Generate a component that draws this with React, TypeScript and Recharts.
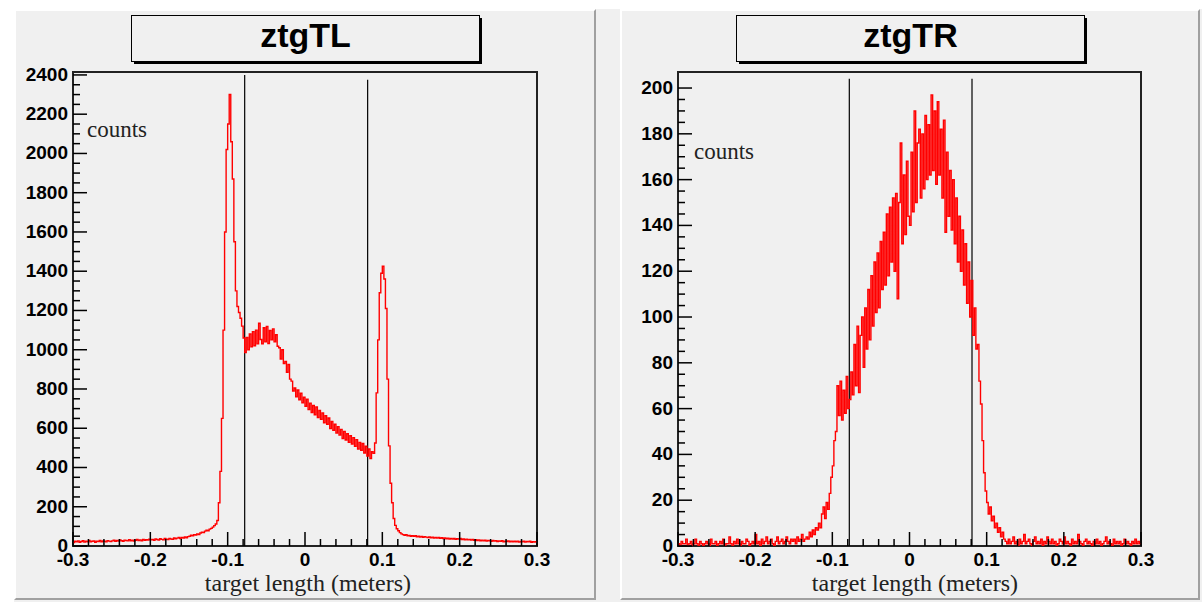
import React from 'react';
import { LineChart, Line, XAxis, YAxis, ReferenceLine, ReferenceArea } from 'recharts';

// ---------- data ----------
const BIN_START = -0.3;
const BIN_WIDTH = 0.002;

const X_TICKS = [-0.3, -0.28, -0.26, -0.24, -0.22, -0.2, -0.18, -0.16, -0.14, -0.12, -0.1, -0.08, -0.06, -0.04, -0.02, 0,
  0.02, 0.04, 0.06, 0.08, 0.1, 0.12, 0.14, 0.16, 0.18, 0.2, 0.22, 0.24, 0.26, 0.28, 0.3];
const X_TICK_LABELS = ['-0.3', '', '', '', '', '-0.2', '', '', '', '', '-0.1', '', '', '', '', '0',
  '', '', '', '', '0.1', '', '', '', '', '0.2', '', '', '', '', '0.3'];

const TL_Y_MAJOR = [0, 200, 400, 600, 800, 1000, 1200, 1400, 1600, 1800, 2000, 2200, 2400];
const TL_Y_MINOR_STEP = 50;
const TL_Y_MAX = 2415;
const TL_CUTS = [-0.078, 0.081];
const TL_CUT_TOPS = [2400, 2375];

const TR_Y_MAJOR = [0, 20, 40, 60, 80, 100, 120, 140, 160, 180, 200];
const TR_Y_MINOR_STEP = 5;
const TR_Y_MAX = 207;
const TR_CUTS = [-0.078, 0.081];
const TR_CUT_TOPS = [204, 204];

const TL_COUNTS = [
  18, 24, 21, 26, 19, 23, 27, 20, 25, 22,
  28, 21, 24, 26, 19, 25, 23, 28, 22, 26,
  24, 21, 27, 25, 23, 26, 29, 24, 28, 25,
  31, 27, 24, 30, 28, 26, 32, 27, 30, 25,
  29, 33, 28, 31, 27, 34, 29, 32, 30, 35,
  31, 34, 29, 36, 33, 30, 37, 34, 32, 38,
  35, 33, 39, 36, 34, 41, 37, 40, 43, 38,
  44, 41, 46, 42, 48, 50, 55, 52, 58, 56,
  62, 58, 66, 70, 68, 76, 80, 78, 86, 90,
  96, 104, 112, 130, 220, 380, 650, 1100, 1600, 2020,
  2150, 2300, 2060, 1870, 1550, 1300, 1220, 1190, 1160, 1120,
  1060, 985, 1062, 1000, 1080, 1015, 1092, 1020, 1100, 1030,
  1135, 1052, 1030, 1112, 1040, 1118, 1032, 1098, 1050, 1106,
  1040, 1076, 1018, 1010, 952, 1000, 930, 940, 885, 925,
  850, 840, 790, 805, 760, 795, 745, 778, 730, 758,
  712, 748, 695, 728, 680, 716, 668, 708, 655, 690,
  645, 678, 628, 664, 620, 652, 598, 634, 590, 620,
  575, 608, 565, 594, 548, 584, 540, 572, 528, 562,
  520, 552, 508, 542, 494, 528, 488, 522, 474, 508,
  458, 494, 446, 480, 472, 525, 780, 1050, 1290, 1390,
  1425, 1360, 1210, 850, 510, 320, 220, 140, 105, 88,
  78, 68, 62, 58, 55, 58, 52, 54, 50, 53,
  49, 52, 47, 50, 46, 49, 44, 48, 45, 43,
  46, 42, 45, 41, 44, 40, 43, 39, 42, 38,
  41, 37, 40, 36, 39, 35, 38, 34, 37, 35,
  38, 33, 36, 32, 35, 31, 34, 30, 33, 29,
  32, 28, 31, 27, 30, 26, 29, 25, 28, 26,
  24, 28, 25, 27, 23, 26, 24, 27, 22, 25,
  23, 26, 22, 25, 21, 24, 22, 25, 20, 23,
  21, 24, 20, 23, 21, 24, 19, 22, 20, 22,
];

const TR_COUNTS = [
  1, 0, 2, 1, 1, 3, 0, 1, 2, 0,
  1, 3, 1, 0, 2, 1, 0, 1, 2, 1,
  0, 3, 1, 1, 2, 0, 1, 2, 1, 3,
  0, 1, 1, 4, 1, 0, 2, 1, 3, 1,
  0, 2, 1, 1, 3, 2, 0, 1, 2, 1,
  5, 1, 2, 0, 3, 1, 2, 4, 1, 2,
  3, 1, 0, 2, 4, 1, 2, 3, 1, 2,
  4, 2, 1, 3, 2, 3, 1, 4, 2, 3,
  5, 2, 3, 4, 3, 6, 4, 7, 5, 8,
  7, 10, 8, 14, 17, 12, 19, 16, 23, 30,
  35, 46, 50, 70, 57, 72, 55, 68, 58, 74,
  60, 64, 76, 66, 88, 70, 96, 67, 92, 100,
  78, 104, 86, 112, 90, 118, 96, 124, 102, 128,
  104, 133, 112, 137, 114, 145, 118, 148, 124, 152,
  120, 154, 108, 150, 176, 132, 162, 136, 168, 144,
  140, 172, 146, 190, 150, 176, 182, 152, 180, 156,
  188, 160, 184, 162, 197, 164, 190, 158, 194, 162,
  182, 152, 186, 137, 172, 144, 164, 138, 160, 132,
  152, 124, 144, 120, 138, 114, 132, 106, 124, 100,
  116, 92, 104, 86, 88, 72, 62, 46, 32, 24,
  19, 14, 17, 11, 13, 8, 10, 6, 8, 4,
  6, 3, 2, 1, 3, 1, 2, 4, 1, 2,
  0, 3, 1, 2, 5, 1, 2, 3, 1, 0,
  2, 4, 1, 2, 1, 3, 0, 2, 1, 4,
  2, 1, 3, 1, 2, 0, 1, 3, 2, 1,
  4, 1, 2, 1, 0, 3, 1, 2, 1, 5,
  2, 1, 0, 2, 3, 1, 2, 1, 0, 2,
  1, 3, 1, 2, 0, 1, 2, 4, 1, 2,
  1, 0, 3, 1, 2, 1, 2, 0, 1, 3,
  1, 2, 1, 0, 2, 1, 3, 1, 2, 1,
];

// ---------- helpers ----------
function buildHist(values: number[]) {
  const rows = values.map((c, i) => ({ x: +(BIN_START + i * BIN_WIDTH).toFixed(4), c }));
  rows.push({ x: +(BIN_START + values.length * BIN_WIDTH).toFixed(4), c: values[values.length - 1] });
  return rows;
}

function buildYTicks(majors: number[], step: number) {
  const out: number[] = [];
  const top = majors[majors.length - 1];
  for (let v = 0; v <= top + 1e-9; v += step) out.push(v);
  return out;
}

const LABEL_FONT = "'Liberation Sans', Arial, Helvetica, sans-serif";
const SERIF_FONT = "'Liberation Serif', 'Times New Roman', serif";
const PANEL_BG = '#f0f0f0';

const XTick = (props: any) => {
  const { x, y, payload } = props;
  const idx = X_TICKS.indexOf(payload.value);
  const label = idx >= 0 ? X_TICK_LABELS[idx] : '';
  const major = label !== '';
  return (
    <g>
      <line x1={x} y1={y} x2={x} y2={y - (major ? 14 : 7)} stroke="#000" strokeWidth={1.5} />
      {major && (
        <text x={x} y={y + 20} textAnchor="middle" fontFamily={LABEL_FONT} fontWeight="bold" fontSize={19} fill="#000">
          {label}
        </text>
      )}
    </g>
  );
};

const makeYTick = (majors: number[]) => (props: any) => {
  const { x, y, payload } = props;
  const v = payload.value;
  const major = majors.includes(v);
  return (
    <g>
      <line x1={x} y1={y} x2={x + (major ? 14 : 7)} y2={y} stroke="#000" strokeWidth={1.5} />
      {major && (
        <text x={x - 5} y={y + 6} textAnchor="end" fontFamily={LABEL_FONT} fontWeight="bold" fontSize={19} fill="#000">
          {String(v)}
        </text>
      )}
    </g>
  );
};

type PanelProps = {
  left: number;
  width: number;
  marginLeft: number;
  marginRight: number;
  values: number[];
  yMax: number;
  yMajor: number[];
  yMinorStep: number;
  cuts: number[];
  cutTops: number[];
};

const Panel = ({ left, width, marginLeft, marginRight, values, yMax, yMajor, yMinorStep, cuts, cutTops }: PanelProps) => {
  const data = buildHist(values);
  const yTicks = buildYTicks(yMajor, yMinorStep);
  return (
    <div style={{ position: 'absolute', left, top: 0, width, height: 604 }}>
      <LineChart width={width} height={604} data={data} margin={{ top: 72, right: marginRight, bottom: 28, left: marginLeft }}>
        <XAxis
          dataKey="x"
          type="number"
          domain={[-0.3, 0.3]}
          ticks={X_TICKS}
          interval={0}
          axisLine={false}
          tickLine={false}
          tickSize={0}
          tickMargin={0}
          tick={<XTick />}
          allowDataOverflow
          height={30}
        />
        <YAxis
          type="number"
          domain={[0, yMax]}
          ticks={yTicks}
          interval={0}
          axisLine={false}
          tickLine={false}
          tickSize={0}
          tickMargin={0}
          tick={makeYTick(yMajor)}
          allowDataOverflow
          width={60}
        />
        <ReferenceArea x1={-0.3} x2={0.3} y1={0} y2={yMax} fill="none" stroke="#222" strokeWidth={2} ifOverflow="visible" />
        {cuts.map((c, i) => (
          <ReferenceLine
            key={i}
            segment={[{ x: c, y: 0 }, { x: c, y: cutTops[i] }]}
            stroke="#000"
            strokeWidth={1.2}
          />
        ))}
        <Line
          dataKey="c"
          type="stepAfter"
          stroke="#ff0000"
          strokeWidth={1.4}
          dot={false}
          activeDot={false}
          isAnimationActive={false}
        />
      </LineChart>
    </div>
  );
};

const padStyle = (left: number, width: number): React.CSSProperties => ({
  position: 'absolute',
  left,
  top: 9,
  width,
  height: 591,
  boxSizing: 'border-box',
  background: PANEL_BG,
  borderLeft: '2px solid #ffffff',
  borderTop: '2px solid #ffffff',
  borderRight: '2px solid #a0a0a0',
  borderBottom: '2px solid #a0a0a0',
});

export default function App() {
  return (
    <div style={{ position: 'absolute', left: 0, top: 0, width: 1202, height: 604, background: '#ffffff', overflow: 'hidden' }}>
      <div style={{ position: 'absolute', left: 14, top: 9, width: 1188, height: 593, background: PANEL_BG }} />
      <div style={padStyle(14, 582)} />
      <div style={padStyle(620, 580)} />

      <Panel left={0} width={600} marginLeft={13} marginRight={63} values={TL_COUNTS} yMax={TL_Y_MAX}
        yMajor={TL_Y_MAJOR} yMinorStep={TL_Y_MINOR_STEP} cuts={TL_CUTS} cutTops={TL_CUT_TOPS} />
      <Panel left={600} width={602} marginLeft={18} marginRight={61} values={TR_COUNTS} yMax={TR_Y_MAX}
        yMajor={TR_Y_MAJOR} yMinorStep={TR_Y_MINOR_STEP} cuts={TR_CUTS} cutTops={TR_CUT_TOPS} />

      <svg width={1202} height={604} style={{ position: 'absolute', left: 0, top: 0, pointerEvents: 'none' }}>
        {/* left title */}
        <rect x={134} y={18} width={348} height={46} fill="#000" />
        <rect x={131.5} y={15.5} width={348} height={46} fill={PANEL_BG} stroke="#000" strokeWidth={1} />
        <text x={305.5} y={47} textAnchor="middle" fontFamily={LABEL_FONT} fontWeight="bold" fontSize={34} fill="#000">ztgTL</text>
        {/* right title */}
        <rect x={739} y={18} width={348} height={46} fill="#000" />
        <rect x={736.5} y={15.5} width={348} height={46} fill={PANEL_BG} stroke="#000" strokeWidth={1} />
        <text x={910.5} y={47} textAnchor="middle" fontFamily={LABEL_FONT} fontWeight="bold" fontSize={34} fill="#000">ztgTR</text>
        {/* counts labels */}
        <text x={87} y={137} fontFamily={SERIF_FONT} fontSize={23} fill="#222">counts</text>
        <text x={694} y={159} fontFamily={SERIF_FONT} fontSize={23} fill="#222">counts</text>
        {/* x titles */}
        <text x={411} y={591} textAnchor="end" fontFamily={SERIF_FONT} fontSize={24} fill="#222">target length (meters)</text>
        <text x={1018} y={591} textAnchor="end" fontFamily={SERIF_FONT} fontSize={24} fill="#222">target length (meters)</text>
      </svg>
    </div>
  );
}
